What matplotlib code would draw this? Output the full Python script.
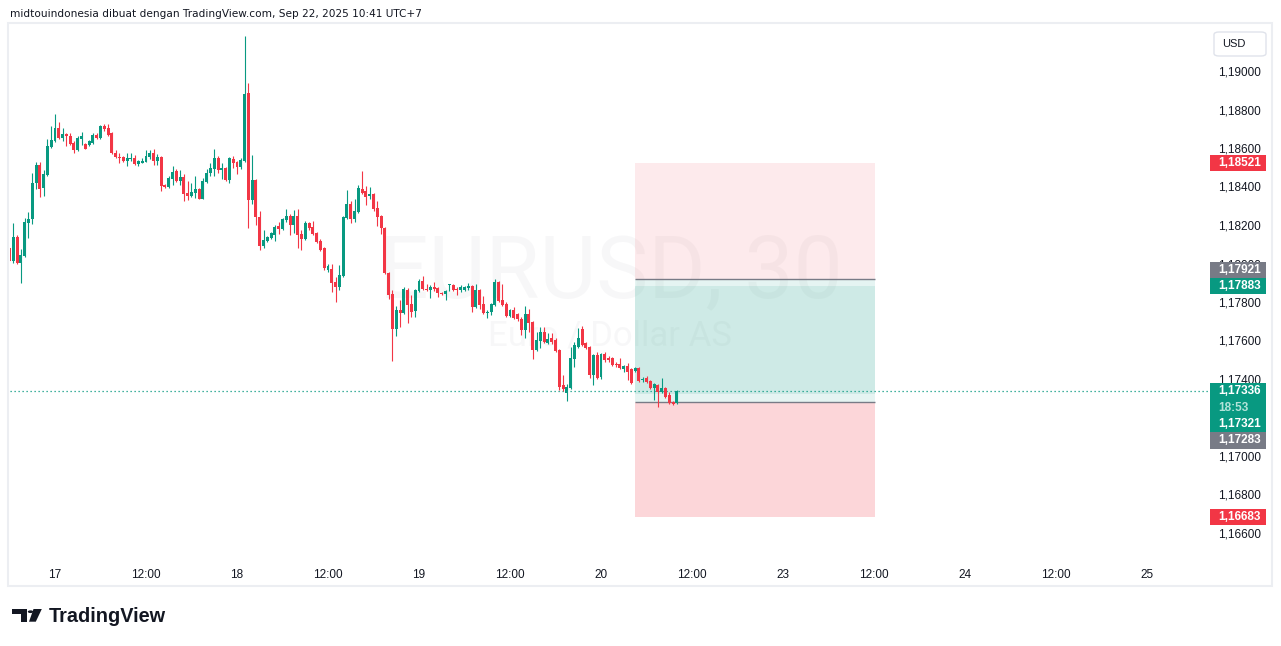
import matplotlib
matplotlib.use('Agg')
import matplotlib.pyplot as plt
import numpy as np
from matplotlib.patches import Rectangle, Polygon, Circle, FancyBboxPatch
from matplotlib.ticker import FixedLocator, FuncFormatter

plt.rcParams['font.family'] = ['Liberation Sans', 'DejaVu Sans']

# ---------------- data (EURUSD, 30 min) ----------------
open_ = [1.18081,
 1.18013, 1.18138, 1.18003, 1.18039, 1.18210, 1.18231, 1.18418, 1.18512, 1.18392, 1.18460,
 1.18605, 1.18636, 1.18704, 1.18652, 1.18673, 1.18662, 1.18626, 1.18590, 1.18647, 1.18621,
 1.18616, 1.18626, 1.18668, 1.18652, 1.18714, 1.18704, 1.18678, 1.18574, 1.18553, 1.18553,
 1.18533, 1.18543, 1.18548, 1.18517, 1.18522, 1.18527, 1.18553, 1.18574, 1.18533, 1.18553,
 1.18408, 1.18397, 1.18439, 1.18481, 1.18429, 1.18449, 1.18366, 1.18351, 1.18366, 1.18387,
 1.18335, 1.18423, 1.18470, 1.18491, 1.18548, 1.18486, 1.18496, 1.18434, 1.18543, 1.18527,
 1.18501, 1.18533, 1.18886, 1.18330, 1.18434, 1.18242, 1.18091, 1.18117, 1.18133, 1.18148,
 1.18195, 1.18179, 1.18226, 1.18247, 1.18200, 1.18247, 1.18153, 1.18127, 1.18210, 1.18190,
 1.18159, 1.18117, 1.18081, 1.17966, 1.17971, 1.17904, 1.17878, 1.17935, 1.18236, 1.18309,
 1.18231, 1.18268, 1.18387, 1.18377, 1.18351, 1.18361, 1.18288, 1.18247, 1.18184, 1.17951,
 1.17842, 1.17660, 1.17758, 1.17743, 1.17862, 1.17790, 1.17753, 1.17857, 1.17909, 1.17868,
 1.17862, 1.17878, 1.17873, 1.17847, 1.17842, 1.17886, 1.17889, 1.17868, 1.17862, 1.17862,
 1.17873, 1.17883, 1.17774, 1.17862, 1.17790, 1.17743, 1.17748, 1.17784, 1.17904, 1.17810,
 1.17790, 1.17727, 1.17758, 1.17738, 1.17712, 1.17655, 1.17738, 1.17696, 1.17551, 1.17597,
 1.17644, 1.17587, 1.17613, 1.17603, 1.17551, 1.17369, 1.17327, 1.17353, 1.17504, 1.17566,
 1.17660, 1.17587, 1.17566, 1.17421, 1.17525, 1.17410, 1.17530, 1.17509, 1.17509, 1.17478,
 1.17478, 1.17452, 1.17468, 1.17452, 1.17442, 1.17457, 1.17395, 1.17405, 1.17390, 1.17353,
 1.17369, 1.17332, 1.17353, 1.17317, 1.17281, 1.17275]
high = [1.18086,
 1.18210, 1.18148, 1.18075, 1.18236, 1.18268, 1.18470, 1.18527, 1.18527, 1.18486, 1.18647,
 1.18714, 1.18777, 1.18735, 1.18704, 1.18678, 1.18678, 1.18636, 1.18662, 1.18683, 1.18626,
 1.18642, 1.18678, 1.18678, 1.18719, 1.18725, 1.18725, 1.18683, 1.18590, 1.18574, 1.18559,
 1.18574, 1.18574, 1.18564, 1.18538, 1.18548, 1.18590, 1.18590, 1.18595, 1.18569, 1.18559,
 1.18413, 1.18455, 1.18507, 1.18491, 1.18486, 1.18465, 1.18429, 1.18418, 1.18455, 1.18392,
 1.18444, 1.18491, 1.18522, 1.18595, 1.18558, 1.18522, 1.18501, 1.18553, 1.18558, 1.18533,
 1.18548, 1.19182, 1.18938, 1.18564, 1.18439, 1.18273, 1.18174, 1.18143, 1.18164, 1.18200,
 1.18216, 1.18236, 1.18283, 1.18257, 1.18278, 1.18283, 1.18174, 1.18221, 1.18216, 1.18221,
 1.18164, 1.18127, 1.18086, 1.17997, 1.17997, 1.17930, 1.17992, 1.18247, 1.18382, 1.18325,
 1.18335, 1.18408, 1.18481, 1.18403, 1.18397, 1.18366, 1.18325, 1.18252, 1.18190, 1.17956,
 1.17862, 1.17779, 1.17810, 1.17878, 1.17873, 1.17836, 1.17868, 1.17920, 1.17935, 1.17894,
 1.17889, 1.17904, 1.17878, 1.17852, 1.17862, 1.17894, 1.17894, 1.17878, 1.17889, 1.17883,
 1.17899, 1.17889, 1.17894, 1.17868, 1.17831, 1.17758, 1.17795, 1.17920, 1.17909, 1.17894,
 1.17800, 1.17764, 1.17774, 1.17743, 1.17722, 1.17779, 1.17764, 1.17701, 1.17644, 1.17670,
 1.17670, 1.17639, 1.17639, 1.17613, 1.17556, 1.17421, 1.17374, 1.17566, 1.17592, 1.17665,
 1.17675, 1.17592, 1.17572, 1.17530, 1.17540, 1.17535, 1.17540, 1.17520, 1.17514, 1.17488,
 1.17509, 1.17473, 1.17483, 1.17457, 1.17462, 1.17462, 1.17410, 1.17416, 1.17395, 1.17379,
 1.17374, 1.17405, 1.17358, 1.17332, 1.17286, 1.17343]
low = [1.18008,
 1.18005, 1.17997, 1.17899, 1.18034, 1.18133, 1.18205, 1.18387, 1.18346, 1.18351, 1.18455,
 1.18600, 1.18630, 1.18647, 1.18636, 1.18610, 1.18616, 1.18574, 1.18585, 1.18616, 1.18595,
 1.18610, 1.18621, 1.18647, 1.18647, 1.18688, 1.18662, 1.18569, 1.18548, 1.18522, 1.18528,
 1.18507, 1.18533, 1.18512, 1.18507, 1.18522, 1.18527, 1.18543, 1.18512, 1.18512, 1.18377,
 1.18392, 1.18392, 1.18408, 1.18424, 1.18408, 1.18325, 1.18330, 1.18346, 1.18340, 1.18335,
 1.18335, 1.18418, 1.18455, 1.18455, 1.18470, 1.18439, 1.18429, 1.18418, 1.18496, 1.18465,
 1.18491, 1.18528, 1.18184, 1.18309, 1.18200, 1.18070, 1.18081, 1.18112, 1.18128, 1.18117,
 1.18153, 1.18174, 1.18216, 1.18148, 1.18159, 1.18081, 1.18070, 1.18122, 1.18174, 1.18148,
 1.18107, 1.18065, 1.17966, 1.17956, 1.17852, 1.17800, 1.17862, 1.17930, 1.18231, 1.18210,
 1.18216, 1.18263, 1.18361, 1.18304, 1.18335, 1.18273, 1.18195, 1.18153, 1.17945, 1.17816,
 1.17494, 1.17623, 1.17670, 1.17738, 1.17691, 1.17722, 1.17722, 1.17852, 1.17862, 1.17857,
 1.17821, 1.17857, 1.17826, 1.17836, 1.17810, 1.17857, 1.17857, 1.17836, 1.17852, 1.17857,
 1.17862, 1.17748, 1.17769, 1.17764, 1.17738, 1.17717, 1.17733, 1.17779, 1.17800, 1.17779,
 1.17722, 1.17722, 1.17712, 1.17701, 1.17629, 1.17613, 1.17644, 1.17504, 1.17546, 1.17561,
 1.17587, 1.17582, 1.17582, 1.17540, 1.17343, 1.17338, 1.17286, 1.17348, 1.17462, 1.17561,
 1.17572, 1.17556, 1.17405, 1.17369, 1.17400, 1.17400, 1.17488, 1.17488, 1.17468, 1.17462,
 1.17452, 1.17436, 1.17395, 1.17374, 1.17436, 1.17384, 1.17384, 1.17379, 1.17348, 1.17291,
 1.17255, 1.17327, 1.17301, 1.17270, 1.17265, 1.17270]
close = [1.18013,
 1.18138, 1.18003, 1.18044, 1.18216, 1.18231, 1.18418, 1.18512, 1.18387, 1.18465, 1.18610,
 1.18642, 1.18704, 1.18652, 1.18673, 1.18662, 1.18621, 1.18590, 1.18652, 1.18662, 1.18595,
 1.18636, 1.18668, 1.18652, 1.18714, 1.18699, 1.18668, 1.18574, 1.18553, 1.18550, 1.18533,
 1.18548, 1.18548, 1.18517, 1.18533, 1.18533, 1.18558, 1.18574, 1.18533, 1.18553, 1.18403,
 1.18397, 1.18444, 1.18475, 1.18429, 1.18449, 1.18361, 1.18351, 1.18371, 1.18387, 1.18335,
 1.18429, 1.18470, 1.18496, 1.18548, 1.18486, 1.18496, 1.18434, 1.18548, 1.18522, 1.18501,
 1.18538, 1.18881, 1.18330, 1.18434, 1.18242, 1.18091, 1.18122, 1.18138, 1.18159, 1.18190,
 1.18179, 1.18231, 1.18247, 1.18200, 1.18247, 1.18148, 1.18127, 1.18210, 1.18184, 1.18153,
 1.18112, 1.18070, 1.17977, 1.17987, 1.17899, 1.17878, 1.17940, 1.18242, 1.18309, 1.18231,
 1.18273, 1.18392, 1.18366, 1.18346, 1.18361, 1.18283, 1.18242, 1.18184, 1.17951, 1.17836,
 1.17660, 1.17758, 1.17743, 1.17868, 1.17784, 1.17748, 1.17862, 1.17909, 1.17868, 1.17862,
 1.17878, 1.17868, 1.17847, 1.17842, 1.17857, 1.17889, 1.17862, 1.17862, 1.17878, 1.17878,
 1.17883, 1.17774, 1.17862, 1.17784, 1.17743, 1.17748, 1.17790, 1.17904, 1.17805, 1.17784,
 1.17727, 1.17758, 1.17717, 1.17712, 1.17655, 1.17738, 1.17691, 1.17551, 1.17603, 1.17644,
 1.17592, 1.17608, 1.17592, 1.17545, 1.17358, 1.17348, 1.17358, 1.17509, 1.17577, 1.17613,
 1.17577, 1.17561, 1.17421, 1.17525, 1.17405, 1.17530, 1.17499, 1.17499, 1.17473, 1.17473,
 1.17457, 1.17468, 1.17436, 1.17379, 1.17457, 1.17390, 1.17400, 1.17384, 1.17353, 1.17374,
 1.17332, 1.17353, 1.17307, 1.17275, 1.17270, 1.17336]

first_bar_index = -1          # bar index relative to the first fully visible candle
time_tick_index = [11, 35, 59, 83, 107, 131, 155, 179, 203, 227, 251, 275, 299]
time_tick_labels = ['17', '12:00', '18', '12:00', '19', '12:00', '20', '12:00',
                    '23', '12:00', '24', '12:00', '25']
price_ticks = [1.166, 1.168, 1.170, 1.174, 1.176, 1.178, 1.180,
               1.182, 1.184, 1.186, 1.188, 1.190]   # 1,17200 is hidden behind the labels
last_price = 1.17336
countdown = '18:53'

# two position drawings: (entry, stop, target)
short_pos = (1.17921, 1.18521, 1.17321)
long_pos = (1.17283, 1.16683, 1.17883)
pos_start, pos_end = 164.0, 227.25

# ---------------- figure ----------------
W, H, DPI = 1281, 646, 100
fig = plt.figure(figsize=(W / DPI, H / DPI), dpi=DPI)
fig.patch.set_facecolor('white')

GREEN = '#089981'
RED = '#f23645'
GREY = '#787b86'
TXT = '#131722'

def fx(x):
    return x / W

def fy(y):
    return 1 - y / H

ax_l, ax_r, ax_t, ax_b = 10, 1208, 22, 556
ax = fig.add_axes([fx(ax_l), fy(ax_b), (ax_r - ax_l) / W, (ax_b - ax_t) / H])
ax.set_facecolor('none')
for s in ax.spines.values():
    s.set_visible(False)

px_per_bar = 3.7917
x0_bar_px = 13.29
ax.set_xlim((ax_l - x0_bar_px) / px_per_bar, (ax_r - x0_bar_px) / px_per_bar)
px_per_price = 19250.0
ax.set_ylim(1.166 - (ax_b - 533) / px_per_price, 1.190 + (71 - ax_t) / px_per_price)

o = np.array(open_); h = np.array(high); l = np.array(low); c = np.array(close)
x = np.arange(len(o)) + first_bar_index
up = c >= o
cols = np.where(up, GREEN, RED)
body_lo = np.minimum(o, c)
body_h = np.maximum(np.abs(c - o), 1.0 / px_per_price)

ax.vlines(x, l, h, colors=cols, linewidth=0.8, zorder=3)
ax.bar(x, body_h, bottom=body_lo, width=0.78, color=cols, linewidth=0, zorder=4)

# current price dotted line
ax.axhline(last_price, color=GREEN, linewidth=0.9, linestyle=(0, (1, 2.2)), zorder=2)

# position tools
def zone(p1, p2, color, alpha):
    ax.add_patch(Rectangle((pos_start, min(p1, p2)), pos_end - pos_start, abs(p2 - p1),
                           facecolor=color, alpha=alpha, edgecolor='none', zorder=1))

zone(short_pos[0], short_pos[1], RED, 0.10)
zone(short_pos[0], short_pos[2], GREEN, 0.10)
zone(long_pos[0], long_pos[2], GREEN, 0.10)
zone(long_pos[0], long_pos[1], RED, 0.20)
for p in (short_pos[0], long_pos[0]):
    ax.hlines(p, pos_start, pos_end, colors=GREY, linewidth=1.0, zorder=2)

# watermark
ax.text((611 - ax_l) / (ax_r - ax_l), (ax_b - 297) / (ax_b - ax_t), 'EURUSD, 30',
        transform=ax.transAxes, ha='center', va='baseline', fontsize=63,
        family=['Roboto', 'DejaVu Sans'], color=GREY, alpha=0.055, zorder=0)
ax.text((610 - ax_l) / (ax_r - ax_l), (ax_b - 345) / (ax_b - ax_t), 'Euro / Dollar AS',
        transform=ax.transAxes, ha='center', va='baseline', fontsize=25,
        family=['Roboto', 'DejaVu Sans'], color=GREY, alpha=0.055, zorder=0)

# axes ticks
ax.xaxis.set_major_locator(FixedLocator(time_tick_index))
ax.set_xticklabels(time_tick_labels)
ax.tick_params(axis='x', length=0, pad=9, labelsize=8.5, labelcolor=TXT)
ax.yaxis.tick_right()
ax.yaxis.set_major_locator(FixedLocator(price_ticks))
ax.yaxis.set_major_formatter(FuncFormatter(lambda v, pos: f'{v:.5f}'.replace('.', ',')))
ax.tick_params(axis='y', length=0, pad=7.3, labelsize=8.5, labelcolor=TXT)

# price labels on the axis
def price_py(price):
    return H - ax.transData.transform((0, price))[1]

def label_box(price, color, dy=0.0, sub=None, subcolor=None):
    yc = price_py(price) + dy
    bh = 16.5
    total = bh * (2 if sub else 1)
    fig.add_artist(Rectangle((fx(1210), fy(yc - bh / 2 + total)), 56 / W, total / H,
                             transform=fig.transFigure, facecolor=color,
                             edgecolor='none', zorder=5))
    fig.text(fx(1218), fy(yc), f'{price:.5f}'.replace('.', ','), color='white',
             fontsize=8.5, fontweight='bold', ha='left', va='center', zorder=6)
    if sub:
        fig.text(fx(1218), fy(yc + bh), sub, color=subcolor, fontsize=8.5,
                 fontweight='bold', ha='left', va='center', zorder=6)

label_box(short_pos[1], RED)
label_box(short_pos[0], GREY, dy=-8.7)
label_box(long_pos[2], GREEN)
label_box(last_price, GREEN, sub=countdown, subcolor='#b3e3d9')
label_box(short_pos[2], GREEN, dy=30.0)
label_box(long_pos[0], GREY, dy=38.9)
label_box(long_pos[1], RED)

# USD box
fig.add_artist(FancyBboxPatch((fx(1214), fy(56)), 52 / W, 24 / H,
                              boxstyle='round,pad=0,rounding_size=0.004',
                              transform=fig.transFigure, facecolor='white',
                              edgecolor='#e0e3eb', linewidth=1.0, zorder=5))
fig.text(fx(1222), fy(44), 'USD', fontsize=8, color=TXT, ha='left', va='center', zorder=6)

# chart frame
fig.add_artist(Rectangle((fx(8), fy(586)), 1264 / W, 563 / H, transform=fig.transFigure,
                         facecolor='none', edgecolor='#eceef2', linewidth=1.5, zorder=7))

# header
fig.text(fx(10), fy(14), 'midtouindonesia dibuat dengan TradingView.com, Sep 22, 2025 10:41 UTC+7',
         fontsize=7.6, color=TXT, ha='left', va='center', family=['DejaVu Sans'])

# TradingView logo
def P(xx, yy):
    return (fx(xx), fy(yy))

logo_c = '#131722'
fig.add_artist(Polygon([P(12.3, 609), P(26.7, 609), P(26.7, 621.7), P(20.8, 621.7),
                        P(20.8, 614.3), P(12.3, 614.3)], closed=True,
                       transform=fig.transFigure, facecolor=logo_c, edgecolor='none'))
fig.add_artist(Polygon([P(33.5, 609), P(41.8, 609), P(35.8, 621.7), P(29.0, 621.7)],
                       closed=True, transform=fig.transFigure, facecolor=logo_c,
                       edgecolor='none'))
fig.add_artist(Circle(P(30.5, 611.7), 2.7 / W, transform=fig.transFigure,
                      facecolor=logo_c, edgecolor='none'))
fig.text(fx(48.5), fy(616), 'TradingView', fontsize=14.3, fontweight='bold', color=logo_c,
         ha='left', va='center')

fig.savefig('out.png', dpi=DPI, facecolor='white')
